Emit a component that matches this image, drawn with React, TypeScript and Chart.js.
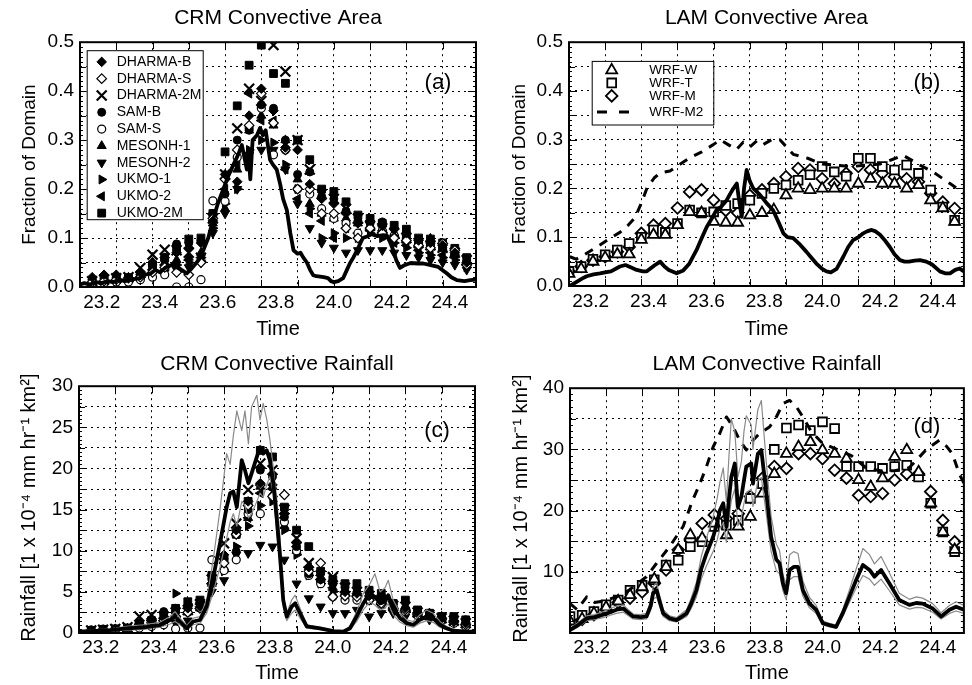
import React, { useEffect, useRef } from 'react';
import { Chart, registerables } from 'chart.js';
import { drawPoint } from 'chart.js/helpers';

Chart.register(...registerables);
const FONT = "'Liberation Sans', Arial, Helvetica, sans-serif";
Chart.defaults.font.family = FONT;
Chart.defaults.color = '#000';

// ---------------- axes ----------------
const xMin = 23.125;
const xMax = 24.49;
const xTickLabels = [23.2, 23.4, 23.6, 23.8, 24.0, 24.2, 24.4];
const xGridLines = [23.25, 23.375, 23.5, 23.625, 23.75, 23.875, 24.0, 24.125, 24.25, 24.375];
const yTicksArea = [0, 0.1, 0.2, 0.3, 0.4, 0.5];
const yGridArea = [0, 0.05, 0.1, 0.15, 0.2, 0.25, 0.3, 0.35, 0.4, 0.45, 0.5];
const yTicksCrmRain = [0, 5, 10, 15, 20, 25, 30];
const yGridCrmRain = [0, 2.5, 5, 7.5, 10, 12.5, 15, 17.5, 20, 22.5, 25, 27.5, 30];
const yTicksLamRain = [10, 20, 30, 40];
const yGridLamRain = [0, 5, 10, 15, 20, 25, 30, 35, 40];

// ---------------- names ----------------
const crmModels = ['DHARMA-B', 'DHARMA-S', 'DHARMA-2M', 'SAM-B', 'SAM-S', 'MESONH-1', 'MESONH-2', 'UKMO-1', 'UKMO-2', 'UKMO-2M'];
const wrfModels = ['WRF-W', 'WRF-T', 'WRF-M', 'WRF-M2'];

// hourly model output times (days)
const crmTimes = [23.167, 23.208, 23.25, 23.292, 23.333, 23.375, 23.417, 23.458, 23.5, 23.542, 23.583, 23.625, 23.667, 23.708, 23.75, 23.792, 23.833, 23.875, 23.917, 23.958, 24.0, 24.042, 24.083, 24.125, 24.167, 24.208, 24.25, 24.292, 24.333, 24.375, 24.417, 24.458];
const wrfTimes = [23.125, 23.167, 23.208, 23.25, 23.292, 23.333, 23.375, 23.417, 23.458, 23.5, 23.542, 23.583, 23.625, 23.667, 23.708, 23.75, 23.792, 23.833, 23.875, 23.917, 23.958, 24.0, 24.042, 24.083, 24.125, 24.167, 24.208, 24.25, 24.292, 24.333, 24.375, 24.417, 24.458];

// ---------------- (a) CRM convective area ----------------
const areaDharmaB = [.020, .025, .025, .020, .030, .050, .060, .070, .080, .090, .135, .230, .215, .350, .405, .360, .285, .280, .210, .180, .170, .150, .130, .135, .125, .120, .110, .095, .090, .085, .070, .050];
const areaDharmaS = [.010, .012, .015, .018, .020, .030, .040, .030, .025, .050, .140, .220, .280, .330, .395, .335, .280, .200, .200, .150, .150, .120, .100, .120, .110, .100, .095, .085, .080, .089, .075, .045];
const areaDharma2M = [.012, .015, .018, .020, .039, .066, .076, .075, .070, .060, .140, .230, .324, .405, .380, .494, .440, .300, .240, .190, .180, .160, .140, .125, .120, .110, .100, .090, .085, .080, .070, .055];
const areaSamB = [.015, .018, .020, .020, .025, .045, .055, .088, .090, .095, .150, .190, .300, .320, .372, .365, .300, .230, .235, .185, .180, .155, .135, .130, .133, .120, .105, .090, .085, .080, .065, .050];
const areaSamS = [.005, .008, .010, .010, .015, .020, .025, .000, .000, .015, .176, .175, .265, .325, .365, .270, .280, .200, .190, .160, .140, .130, .110, .120, .115, .105, .100, .090, .085, .080, .065, .050];
const areaMesonh1 = [.010, .012, .015, .015, .030, .050, .050, .055, .060, .070, .130, .160, .240, .320, .350, .330, .300, .220, .170, .150, .140, .140, .130, .137, .120, .110, .095, .085, .099, .080, .070, .050];
const areaMesonh2 = [.005, .006, .008, .010, .015, .025, .030, .035, .040, .050, .110, .150, .200, .270, .280, .280, .240, .170, .120, .090, .080, .070, .075, .075, .075, .070, .065, .060, .055, .050, .045, .035];
const areaUkmo1 = [.008, .010, .010, .012, .020, .030, .040, .045, .050, .060, .120, .170, .200, .280, .300, .295, .250, .200, .160, .100, .110, .100, .100, .110, .100, .090, .080, .070, .065, .060, .055, .040];
const areaUkmo2 = [.008, .010, .012, .015, .020, .035, .045, .048, .055, .060, .150, .200, .250, .395, .340, .340, .240, .180, .150, .135, .100, .120, .110, .115, .105, .090, .085, .075, .070, .065, .060, .045];
const areaUkmo2M = [.010, .012, .015, .018, .025, .045, .060, .080, .098, .100, .150, .276, .370, .453, .494, .436, .416, .300, .260, .200, .195, .174, .147, .140, .130, .126, .118, .100, .098, .090, .079, .060];

const obsAreaCrmTimes = [23.125, 23.14, 23.16, 23.18, 23.2, 23.22, 23.24, 23.26, 23.28, 23.3, 23.332, 23.35, 23.37, 23.385, 23.401, 23.42, 23.44, 23.458, 23.475, 23.493, 23.51, 23.527, 23.54, 23.55, 23.567, 23.585, 23.6, 23.619, 23.635, 23.654, 23.67, 23.683, 23.69, 23.7, 23.705, 23.712, 23.72, 23.735, 23.746, 23.755, 23.765, 23.775, 23.78, 23.79, 23.803, 23.815, 23.825, 23.838, 23.85, 23.861, 23.875, 23.885, 23.895, 23.907, 23.918, 23.929, 23.94, 23.953, 23.965, 23.98, 23.99, 24.0, 24.015, 24.032, 24.045, 24.056, 24.067, 24.08, 24.1, 24.114, 24.13, 24.15, 24.17, 24.183, 24.195, 24.205, 24.215, 24.228, 24.245, 24.265, 24.29, 24.308, 24.33, 24.36, 24.389, 24.405, 24.424, 24.45, 24.47, 24.49];
const obsAreaCrm = [0.005, 0.008, 0.005, 0.01, 0.008, 0.012, 0.01, 0.015, 0.012, 0.015, 0.018, 0.025, 0.028, 0.035, 0.03, 0.04, 0.045, 0.04, 0.035, 0.028, 0.038, 0.05, 0.06, 0.075, 0.1, 0.14, 0.17, 0.2, 0.225, 0.25, 0.27, 0.29, 0.27, 0.24, 0.28, 0.22, 0.3, 0.31, 0.325, 0.31, 0.32, 0.28, 0.26, 0.25, 0.24, 0.21, 0.18, 0.157, 0.11, 0.075, 0.068, 0.07, 0.06, 0.05, 0.035, 0.024, 0.022, 0.021, 0.02, 0.018, 0.012, 0.01, 0.012, 0.018, 0.035, 0.049, 0.06, 0.075, 0.1, 0.103, 0.108, 0.104, 0.106, 0.105, 0.09, 0.075, 0.055, 0.039, 0.045, 0.049, 0.048, 0.048, 0.045, 0.041, 0.028, 0.02, 0.014, 0.012, 0.014, 0.015];

// ---------------- (b) LAM convective area ----------------
const areaWrfW = [.025, .035, .05, .058, .065, .065, .095, .105, .105, .125, .152, .15, .132, .13, .13, .145, .15, .156, .186, .2, .197, .2, .2, .2, .21, .22, .21, .21, .2, .207, .176, .16, .132];
const areaWrfT = [.03, .04, .055, .064, .074, .087, .1, .115, .11, .128, .156, .15, .152, .165, .169, .176, .19, .2, .207, .217, .228, .245, .234, .225, .262, .262, .245, .238, .248, .231, .197, .162, .135];
const areaWrfM = [.03, .04, .053, .06, .07, .08, .108, .125, .128, .16, .193, .197, .176, .155, .15, .186, .197, .21, .224, .241, .238, .22, .21, .231, .245, .238, .231, .224, .22, .214, .19, .172, .159];
const areaWrfM2Times = [23.128, 23.15, 23.18, 23.221, 23.26, 23.301, 23.33, 23.353, 23.375, 23.394, 23.42, 23.44, 23.474, 23.51, 23.543, 23.584, 23.624, 23.647, 23.675, 23.704, 23.727, 23.75, 23.775, 23.796, 23.825, 23.854, 23.9, 23.95, 24.0, 24.1, 24.2, 24.245, 24.28, 24.338, 24.383, 24.442, 24.49];
const areaWrfM2 = [0.06, 0.055, 0.065, 0.08, 0.095, 0.11, 0.125, 0.14, 0.17, 0.2, 0.222, 0.232, 0.236, 0.25, 0.263, 0.275, 0.29, 0.3, 0.29, 0.28, 0.295, 0.285, 0.298, 0.29, 0.3, 0.3, 0.27, 0.262, 0.25, 0.245, 0.25, 0.26, 0.268, 0.248, 0.234, 0.21, 0.19];
const obsAreaLamTimes = [23.128, 23.15, 23.17, 23.186, 23.21, 23.232, 23.25, 23.27, 23.301, 23.32, 23.34, 23.359, 23.38, 23.394, 23.42, 23.44, 23.455, 23.47, 23.497, 23.52, 23.54, 23.566, 23.585, 23.601, 23.62, 23.635, 23.65, 23.67, 23.683, 23.693, 23.705, 23.712, 23.722, 23.73, 23.739, 23.75, 23.762, 23.78, 23.795, 23.808, 23.83, 23.85, 23.866, 23.88, 23.9, 23.92, 23.946, 23.96, 23.98, 24.0, 24.015, 24.03, 24.05, 24.073, 24.09, 24.107, 24.125, 24.142, 24.155, 24.171, 24.185, 24.2, 24.215, 24.234, 24.25, 24.269, 24.285, 24.3, 24.32, 24.338, 24.36, 24.38, 24.407, 24.425, 24.442, 24.46, 24.475, 24.49];
const obsAreaLam = [0.0, 0.008, 0.015, 0.02, 0.024, 0.026, 0.028, 0.03, 0.04, 0.043, 0.038, 0.033, 0.03, 0.03, 0.042, 0.05, 0.04, 0.033, 0.026, 0.032, 0.045, 0.074, 0.1, 0.121, 0.14, 0.156, 0.162, 0.176, 0.19, 0.2, 0.21, 0.18, 0.142, 0.2, 0.238, 0.215, 0.2, 0.19, 0.18, 0.17, 0.156, 0.13, 0.108, 0.1, 0.098, 0.087, 0.07, 0.06, 0.046, 0.035, 0.03, 0.028, 0.035, 0.06, 0.08, 0.094, 0.1, 0.108, 0.112, 0.115, 0.112, 0.105, 0.095, 0.08, 0.065, 0.053, 0.05, 0.05, 0.052, 0.053, 0.05, 0.044, 0.03, 0.026, 0.026, 0.033, 0.036, 0.03];

// ---------------- (c) CRM convective rainfall ----------------
const rainDharmaB = [.2, .4, .5, .6, 1.2, 1.5, 1.8, 2.5, 3.0, 3.2, 6.0, 9.5, 12.5, 16.0, 18.2, 18.0, 14.5, 11.0, 8.0, 6.5, 6.0, 5.0, 4.8, 4.5, 4.0, 3.0, 3.0, 2.5, 2.0, 1.8, 1.5, 1.2];
const rainDharmaS = [.2, .3, .4, .5, 1.0, 1.3, 1.5, 2.0, 2.5, 3.0, 6.0, 8.5, 12.0, 15.5, 18.0, 16.6, 16.8, 11.0, 7.5, 8.5, 4.4, 4.5, 4.4, 4.0, 3.6, 3.0, 2.8, 2.4, 2.0, 1.8, 1.4, 1.0];
const rainDharma2M = [.3, .4, .5, .7, 2.0, 2.2, 2.0, 2.5, 2.8, 3.5, 6.5, 10.9, 13.3, 17.4, 20.6, 19.8, 15.0, 11.5, 8.5, 7.0, 6.8, 5.5, 5.0, 4.5, 4.0, 3.3, 3.2, 2.5, 2.2, 1.8, 1.5, 1.2];
const rainSamB = [.4, .5, .5, .6, 1.2, 1.6, 2.6, 3.0, 2.5, 3.0, 6.5, 9.0, 9.9, 15.0, 19.8, 19.0, 14.1, 10.5, 7.2, 6.5, 6.0, 5.5, 5.0, 5.0, 4.5, 3.5, 3.0, 2.5, 2.2, 2.0, 1.8, 1.6];
const rainSamS = [.1, .2, .3, .4, .6, .8, 1.0, .5, .6, .6, 8.9, 7.6, 8.9, 14.5, 14.5, 16.6, 13.5, 10.0, 7.0, 6.0, 4.4, 4.0, 4.0, 4.0, 3.5, 3.0, 2.6, 2.2, 2.0, 1.6, 1.2, .8];
const rainMesonh1 = [.2, .3, .4, .5, 1.0, 1.4, 1.6, 2.2, 2.6, 3.0, 6.0, 8.0, 12.1, 14.0, 17.8, 17.8, 13.0, 10.0, 8.0, 6.5, 5.5, 5.0, 5.0, 4.5, 4.0, 3.2, 3.0, 2.5, 2.4, 2.0, 1.6, 1.2];
const rainMesonh2 = [.1, .2, .3, .4, .6, .8, 1.0, 1.2, 1.5, 3.4, 5.0, 6.4, 9.5, 9.7, 10.7, 10.5, 8.9, 6.0, 4.2, 3.2, 2.4, 2.4, 2.8, 2.0, 2.4, 2.4, 2.0, 2.0, 1.6, 1.4, 1.2, .8];
const rainUkmo1 = [.2, .3, .4, .5, 1.0, 1.5, 2.0, 4.8, 3.5, 3.8, 6.0, 7.5, 10.5, 13.0, 15.5, 16.0, 12.5, 9.5, 7.0, 6.0, 5.0, 4.5, 4.5, 4.0, 3.6, 3.0, 2.6, 2.2, 2.0, 1.6, 1.4, 1.0];
const rainUkmo2 = [.2, .3, .4, .5, 1.0, 1.5, 1.8, 2.5, 3.0, 3.5, 7.0, 9.0, 12.0, 14.0, 17.0, 17.5, 14.0, 10.5, 8.0, 7.0, 5.5, 5.0, 4.5, 4.0, 3.5, 3.0, 2.5, 2.2, 2.0, 1.5, 1.3, 1.0];
const rainUkmo2M = [.3, .4, .5, .6, 1.0, 1.5, 2.0, 3.0, 3.8, 4.0, 7.0, 8.9, 12.0, 16.0, 22.2, 21.4, 15.3, 12.5, 10.5, 7.5, 6.5, 6.0, 6.0, 5.2, 4.8, 3.6, 4.0, 2.8, 2.4, 2.0, 2.0, 1.6];

const obsRainCrmTimes = [23.128, 23.232, 23.289, 23.347, 23.404, 23.439, 23.456, 23.473, 23.496, 23.519, 23.542, 23.565, 23.588, 23.611, 23.634, 23.646, 23.657, 23.669, 23.686, 23.697, 23.709, 23.72, 23.738, 23.749, 23.76, 23.772, 23.783, 23.795, 23.806, 23.818, 23.829, 23.841, 23.858, 23.87, 23.887, 23.91, 23.956, 24.002, 24.036, 24.059, 24.082, 24.105, 24.128, 24.145, 24.163, 24.18, 24.191, 24.208, 24.232, 24.255, 24.277, 24.3, 24.323, 24.346, 24.369, 24.392, 24.415, 24.461, 24.49];
const obsRainCrm = [0.16, 0.36, 0.57, 0.69, 0.97, 1.58, 2.0, 1.4, 0.57, 1.4, 1.58, 3.2, 6.8, 10.9, 15.3, 17.0, 17.2, 15.3, 21.0, 19.8, 18.2, 19.4, 21.4, 22.6, 21.8, 22.2, 21.0, 18.2, 14.1, 9.3, 4.0, 2.0, 3.2, 3.6, 2.4, 0.8, 0.57, 0.24, 0.16, 0.57, 2.0, 3.6, 4.8, 4.4, 3.6, 3.8, 4.6, 3.0, 1.8, 1.2, 1.0, 1.6, 2.0, 1.8, 1.0, 0.57, 0.28, 0.16, 0.16];
const obsRainCrmHigh = [0.3, 0.5, 0.8, 1.0, 1.3, 2.0, 2.6, 1.8, 0.9, 1.8, 2.0, 4.0, 9.0, 15.0, 21.8, 20.5, 24.0, 27.0, 24.6, 27.0, 23.0, 27.5, 28.9, 25.9, 27.9, 26.0, 23.5, 20.0, 16.5, 11.7, 4.5, 2.4, 4.0, 4.6, 3.0, 1.0, 0.7, 0.3, 0.2, 0.8, 2.6, 4.8, 6.0, 7.2, 5.0, 5.5, 6.4, 4.0, 2.4, 1.6, 1.4, 2.2, 2.8, 2.4, 1.4, 0.8, 0.4, 0.2, 0.2];
const obsRainCrmLow = [0.1, 0.2, 0.35, 0.45, 0.7, 1.1, 1.4, 1.0, 0.4, 1.0, 1.2, 2.4, 5.0, 8.0, 11.5, 13.5, 14.5, 13.0, 16.0, 15.5, 14.0, 14.5, 16.0, 17.0, 16.5, 18.0, 19.0, 17.0, 12.5, 8.0, 3.2, 1.5, 2.4, 2.8, 1.8, 0.6, 0.4, 0.15, 0.1, 0.4, 1.4, 2.8, 3.8, 3.4, 2.8, 3.0, 3.6, 2.2, 1.3, 0.9, 0.7, 1.2, 1.5, 1.3, 0.7, 0.4, 0.2, 0.1, 0.1];

// ---------------- (d) LAM convective rainfall ----------------
const rainWrfW = [1.9, 2.3, 3.2, 4.2, 5.2, 6.2, 7.5, 8.8, 10.8, 13.6, 16, 15.5, 17.9, 16, 17.4, 19, 22.8, 26, 29.3, 30.4, 31.2, 29.9, 29.3, 28.5, 25, 23.9, 25.3, 28.8, 29.9, 26.3, 21.2, 16.5, 13.6];
const rainWrfT = [2.7, 2.9, 3.5, 4.6, 5.4, 7.0, 7.8, 8.7, 11.1, 11.9, 14.1, 14.9, 17.4, 17.6, 18.4, 22, 24.4, 30, 33.5, 34, 33.1, 34.5, 33.4, 27.2, 27.2, 27.2, 26.9, 27.2, 27.4, 25.5, 21.2, 16.5, 13.3];
const rainWrfM = [2.1, 2.2, 3.0, 3.8, 5.0, 5.7, 6.7, 8.1, 10.3, 13.6, 15.2, 17.9, 19.3, 18.7, 19.5, 22.3, 25.3, 27.2, 26.9, 29.3, 29.3, 28.5, 26.6, 25.3, 22.5, 22.3, 22.8, 25, 26, 26, 23.1, 18.4, 14.9];
const rainWrfM2Times = [23.125, 23.15, 23.183, 23.21, 23.24, 23.286, 23.33, 23.39, 23.425, 23.47, 23.517, 23.55, 23.575, 23.598, 23.621, 23.644, 23.667, 23.69, 23.713, 23.736, 23.759, 23.782, 23.817, 23.84, 23.863, 23.886, 23.909, 23.932, 23.96, 24.0, 24.05, 24.1, 24.15, 24.2, 24.25, 24.3, 24.325, 24.36, 24.405, 24.43, 24.45, 24.474, 24.49];
const rainWrfM2 = [4.8, 3.8, 5.9, 5.0, 5.2, 5.9, 7.0, 9.2, 11.4, 14.1, 17.4, 21.7, 24.4, 27.2, 30.4, 32.6, 35.3, 33.7, 31.5, 29.9, 31.5, 32.6, 33.7, 35.3, 37.5, 38.0, 37.0, 35.3, 33.0, 31.0, 30.0, 29.0, 27.0, 26.5, 26.5, 27.0, 28.2, 30.0, 31.5, 30.5, 29.3, 26.0, 24.5];
const obsRainLamTimes = [23.125, 23.15, 23.183, 23.21, 23.24, 23.265, 23.286, 23.31, 23.325, 23.344, 23.37, 23.39, 23.405, 23.413, 23.425, 23.437, 23.448, 23.47, 23.494, 23.51, 23.529, 23.545, 23.563, 23.58, 23.598, 23.621, 23.635, 23.644, 23.656, 23.667, 23.676, 23.684, 23.696, 23.707, 23.719, 23.728, 23.736, 23.753, 23.759, 23.776, 23.788, 23.805, 23.822, 23.84, 23.851, 23.863, 23.874, 23.886, 23.9, 23.915, 23.932, 23.955, 23.978, 24.001, 24.024, 24.047, 24.07, 24.093, 24.117, 24.14, 24.163, 24.18, 24.203, 24.232, 24.266, 24.301, 24.325, 24.347, 24.382, 24.411, 24.44, 24.463, 24.49];
const obsRainLam = [0.5, 1.2, 2.4, 2.6, 3.0, 3.4, 3.8, 4.0, 3.4, 2.7, 2.6, 2.7, 4.5, 6.5, 7.0, 5.0, 3.2, 2.4, 2.1, 2.6, 3.2, 4.8, 7.0, 10.5, 13.0, 15.7, 18.0, 20.0, 21.2, 17.4, 22.0, 25.5, 27.7, 20.6, 22.3, 25.0, 27.2, 27.7, 24.4, 29.3, 29.9, 23.0, 15.7, 12.0, 11.4, 8.1, 6.5, 10.3, 10.8, 10.8, 7.0, 4.8, 3.8, 1.6, 1.3, 1.0, 3.2, 5.9, 8.7, 11.1, 10.3, 9.2, 10.3, 8.1, 5.4, 4.6, 4.9, 4.8, 4.0, 2.7, 3.8, 4.3, 3.8];
const obsRainLamHigh = [0.8, 1.6, 2.8, 3.0, 3.5, 4.0, 4.4, 4.6, 3.9, 3.1, 3.0, 3.2, 5.3, 7.6, 8.2, 5.8, 3.8, 2.8, 2.5, 3.1, 3.8, 5.7, 8.3, 12.5, 15.5, 19.0, 22.0, 24.5, 27.0, 21.5, 29.0, 35.0, 33.0, 25.5, 28.0, 33.0, 35.5, 34.0, 30.0, 36.5, 38.0, 28.0, 19.0, 14.5, 13.5, 9.5, 8.0, 12.8, 13.3, 13.0, 8.5, 5.8, 4.5, 2.0, 1.6, 1.3, 3.8, 7.0, 10.5, 13.8, 12.8, 11.3, 12.5, 9.8, 6.5, 5.5, 5.9, 5.7, 4.8, 3.3, 4.5, 5.1, 4.5];
const obsRainLamLow = [0.2, 0.9, 2.0, 2.2, 2.5, 2.9, 3.2, 3.4, 2.9, 2.3, 2.2, 2.3, 3.8, 5.5, 5.9, 4.2, 2.7, 2.0, 1.8, 2.2, 2.7, 4.0, 5.9, 8.8, 11.0, 13.3, 15.2, 17.0, 18.0, 14.8, 18.7, 21.7, 23.5, 17.5, 19.0, 21.2, 23.0, 23.5, 20.7, 24.9, 25.4, 19.5, 13.3, 10.2, 9.7, 6.9, 5.5, 8.7, 9.2, 9.2, 6.0, 4.1, 3.2, 1.3, 1.0, 0.8, 2.7, 5.0, 7.4, 9.4, 8.8, 7.8, 8.8, 6.9, 4.6, 3.9, 4.2, 4.1, 3.4, 2.3, 3.2, 3.6, 3.2];

// ---------------- styles (not data) ----------------
const crmMarkerStyles = [
  { pointStyle: 'rectRot', fill: '#000', radius: 4.8, rotation: 0, border: 1 },
  { pointStyle: 'rectRot', fill: '#fff', radius: 4.8, rotation: 0, border: 1.2 },
  { pointStyle: 'crossRot', fill: '#000', radius: 7, rotation: 0, border: 2.2 },
  { pointStyle: 'circle', fill: '#000', radius: 4, rotation: 0, border: 1 },
  { pointStyle: 'circle', fill: '#fff', radius: 4, rotation: 0, border: 1.2 },
  { pointStyle: 'triangle', fill: '#000', radius: 5.2, rotation: 0, border: 1 },
  { pointStyle: 'triangle', fill: '#000', radius: 5.2, rotation: 180, border: 1 },
  { pointStyle: 'triangle', fill: '#000', radius: 5.2, rotation: 90, border: 1 },
  { pointStyle: 'triangle', fill: '#000', radius: 5.2, rotation: 270, border: 1 },
  { pointStyle: 'rect', fill: '#000', radius: 5.5, rotation: 0, border: 1 },
];
const wrfMarkerStyles = [
  { pointStyle: 'triangle', fill: '#fff', radius: 6.3, rotation: 0, border: 1.8 },
  { pointStyle: 'rect', fill: '#fff', radius: 6.2, rotation: 0, border: 1.8 },
  { pointStyle: 'rectRot', fill: '#fff', radius: 5.8, rotation: 0, border: 1.8 },
];
const GREY = '#8a8a8a';
const M2_DASH = [9, 8];

const pts = (xs: number[], ys: number[]) => xs.map((x, i) => ({ x, y: ys[i] }));

function markerDataset(label: string, data: any[], st: any) {
  return {
    label, data, showLine: false,
    pointStyle: st.pointStyle, pointRadius: st.radius, pointHoverRadius: st.radius,
    pointRotation: st.rotation, pointBackgroundColor: st.fill, pointBorderColor: '#000',
    pointBorderWidth: st.border,
  };
}
function lineDataset(label: string, data: any[], color: string, width: number, dash: number[] = []) {
  return {
    label, data, showLine: true, pointRadius: 0, pointHoverRadius: 0,
    borderColor: color, backgroundColor: color, borderWidth: width, borderDash: dash,
    fill: false, tension: 0, borderJoinStyle: 'round',
  };
}

function buildOptions(p: any) {
  const tickFont = { family: FONT, size: 19 };
  return {
    responsive: false,
    animation: false,
    devicePixelRatio: 1,
    events: [],
    layout: { padding: { left: 0, right: p.padRight, top: 0, bottom: 0 } },
    plugins: {
      legend: { display: false },
      tooltip: { enabled: false },
      title: {
        display: true, text: p.title, fullSize: false, color: '#000',
        font: { family: FONT, size: 21, weight: 'normal' },
        padding: { top: p.titleTop, bottom: p.titleBottom },
      },
    },
    scales: {
      x: {
        type: 'linear', position: 'bottom', min: xMin, max: xMax, weight: 0,
        afterBuildTicks: (ax: any) => { ax.ticks = xGridLines.map((v) => ({ value: v })); },
        ticks: { display: false, autoSkip: false },
        grid: { display: true, drawTicks: false, color: '#000', lineWidth: 1 },
        border: { display: false, dash: [2, 4] },
        afterFit: (s: any) => { s.height = 0; },
      },
      xt: {
        type: 'linear', position: 'bottom', min: xMin, max: xMax, weight: 1,
        afterBuildTicks: (ax: any) => { ax.ticks = xTickLabels.map((v) => ({ value: v })); },
        ticks: {
          autoSkip: false, maxRotation: 0, padding: p.xTickPad, color: '#000', font: tickFont,
          callback: (v: any) => Number(v).toFixed(1),
        },
        grid: { display: false },
        border: { display: false },
        title: { display: true, text: 'Time', color: '#000', font: { family: FONT, size: 20 }, padding: { top: 0, bottom: p.timePad } },
        afterFit: (s: any) => { s.height = p.xHeight; },
      },
      y: {
        type: 'linear', position: 'left', min: p.yMin, max: p.yMax,
        afterBuildTicks: (ax: any) => { ax.ticks = p.yGrid.map((v: number) => ({ value: v })); },
        ticks: {
          autoSkip: false, padding: 6, color: '#000', font: tickFont,
          callback: (v: any) => {
            const m = p.yLabels.find((t: number) => Math.abs(t - v) < 1e-6);
            return m === undefined ? '' : m.toFixed(p.yDigits);
          },
        },
        grid: { display: true, drawTicks: false, color: '#000', lineWidth: 1 },
        border: { display: false, dash: [2, 4] },
        afterFit: (s: any) => { s.width = p.yWidth; },
      },
    },
  };
}

function makeFrame(p: any) {
  return {
    id: 'frame',
    afterDraw(chart: any) {
      const { ctx, chartArea: a, scales } = chart;
      const ys = scales.y;
      const xs = scales.x;
      ctx.save();
      ctx.strokeStyle = '#000';
      ctx.lineWidth = 1;
      ctx.setLineDash([]);
      ctx.beginPath();
      const n = Math.round((p.yMax - p.yMin) / p.yMinor);
      for (let i = 0; i <= n; i++) {
        const v = p.yMin + i * p.yMinor;
        const py = Math.round(ys.getPixelForValue(v)) + 0.5;
        const lab = p.yLabels.some((g: number) => Math.abs(g - v) < p.yMinor / 10);
        const grd = p.yGrid.some((g: number) => Math.abs(g - v) < p.yMinor / 10);
        const len = lab ? 8 : grd ? 6 : 3;
        ctx.moveTo(a.left, py); ctx.lineTo(a.left + len, py);
        ctx.moveTo(a.right, py); ctx.lineTo(a.right - len, py);
      }
      xGridLines.forEach((v) => {
        const px = Math.round(xs.getPixelForValue(v)) + 0.5;
        ctx.moveTo(px, a.bottom); ctx.lineTo(px, a.bottom - 7);
        ctx.moveTo(px, a.top); ctx.lineTo(px, a.top + 7);
      });
      ctx.stroke();
      ctx.lineWidth = 2;
      ctx.strokeRect(a.left, a.top, a.right - a.left, a.bottom - a.top);
      ctx.restore();
    },
  };
}

function makeDecor(p: any) {
  return {
    id: 'decor',
    afterDraw(chart: any) {
      const { ctx, chartArea: a } = chart;
      ctx.save();
      ctx.fillStyle = '#000';
      ctx.textAlign = 'center';
      ctx.textBaseline = 'middle';
      ctx.font = `22px ${FONT}`;
      ctx.fillText(p.tag, a.right - p.tagDx, a.top + p.tagDy);
      ctx.translate(p.yTitleX, (a.top + a.bottom) / 2 + p.yTitleDy);
      ctx.rotate(-Math.PI / 2);
      ctx.font = `${p.yTitleSize}px ${FONT}`;
      ctx.fillText(p.yTitle, 0, 0);
      ctx.restore();
    },
  };
}

function makeLegend(spec: any) {
  return {
    id: 'boxLegend',
    afterDraw(chart: any) {
      const { ctx, chartArea: a } = chart;
      ctx.save();
      const x0 = a.left + spec.box[0];
      const y0 = a.top + spec.box[1];
      const w = spec.box[2] - spec.box[0];
      const h = spec.box[3] - spec.box[1];
      ctx.fillStyle = '#fff';
      ctx.fillRect(x0, y0, w, h);
      ctx.strokeStyle = '#000';
      ctx.lineWidth = 1;
      ctx.setLineDash([]);
      ctx.strokeRect(x0 + 0.5, y0 + 0.5, w, h);
      spec.items.forEach((di: number, i: number) => {
        const ds = chart.data.datasets[di];
        const y = a.top + spec.rows[i];
        ctx.save();
        if (ds.showLine) {
          ctx.strokeStyle = ds.borderColor;
          ctx.lineWidth = ds.borderWidth;
          ctx.setLineDash(spec.lineDash);
          ctx.beginPath();
          ctx.moveTo(a.left + spec.lineX0, y);
          ctx.lineTo(a.left + spec.lineX1, y);
          ctx.stroke();
        } else {
          ctx.fillStyle = ds.pointBackgroundColor;
          ctx.strokeStyle = '#000';
          ctx.lineWidth = ds.pointBorderWidth;
          ctx.setLineDash([]);
          drawPoint(ctx, {
            pointStyle: ds.pointStyle, rotation: ds.pointRotation || 0,
            radius: ds.pointRadius, borderWidth: ds.pointBorderWidth,
          }, a.left + spec.symX, y);
        }
        ctx.restore();
        ctx.fillStyle = '#000';
        ctx.font = `${spec.fontSize}px ${FONT}`;
        ctx.textAlign = 'left';
        ctx.textBaseline = 'middle';
        ctx.fillText(ds.label, a.left + spec.textX, y);
      });
      ctx.restore();
    },
  };
}

function makeConfig(p: any, datasets: any[]) {
  const plugins: any[] = [makeFrame(p), makeDecor(p)];
  if (p.legend) plugins.push(makeLegend(p.legend));
  return { type: 'scatter', data: { datasets }, options: buildOptions(p), plugins };
}

// ---------------- panels ----------------
const crmAreaSeries = [areaDharmaB, areaDharmaS, areaDharma2M, areaSamB, areaSamS, areaMesonh1, areaMesonh2, areaUkmo1, areaUkmo2, areaUkmo2M];
const crmRainSeries = [rainDharmaB, rainDharmaS, rainDharma2M, rainSamB, rainSamS, rainMesonh1, rainMesonh2, rainUkmo1, rainUkmo2, rainUkmo2M];

function panelA() {
  const p = {
    title: 'CRM Convective Area', padRight: 10, yWidth: 80, xHeight: 55, titleTop: 6, titleBottom: 11,
    timePad: 1, xTickPad: -4, yMin: 0, yMax: 0.5, yGrid: yGridArea, yLabels: yTicksArea, yDigits: 1, yMinor: 0.01,
    tag: '(a)', tagDx: 38, tagDy: 41, yTitle: 'Fraction of Domain', yTitleX: 30, yTitleDy: 0, yTitleSize: 19,
    legend: {
      box: [6.7, 8, 122.7, 177], rows: [19.7, 36.5, 53.3, 70.1, 86.9, 103.7, 120.5, 137.3, 154.1, 170.9],
      symX: 21.7, textX: 36.7, fontSize: 14, items: [1, 2, 3, 4, 5, 6, 7, 8, 9, 10],
    },
  };
  const ds: any[] = [lineDataset('Observed', pts(obsAreaCrmTimes, obsAreaCrm), '#000', 3.8)];
  crmModels.forEach((m, i) => ds.push(markerDataset(m, pts(crmTimes, crmAreaSeries[i]), crmMarkerStyles[i])));
  return makeConfig(p, ds);
}

function panelB() {
  const p = {
    title: 'LAM Convective Area', padRight: 8, yWidth: 83, xHeight: 56, titleTop: 6, titleBottom: 11,
    timePad: 1, xTickPad: -4, yMin: 0, yMax: 0.5, yGrid: yGridArea, yLabels: yTicksArea, yDigits: 1, yMinor: 0.01,
    tag: '(b)', tagDx: 37, tagDy: 41, yTitle: 'Fraction of Domain', yTitleX: 34, yTitleDy: 0, yTitleSize: 19,
    legend: {
      box: [22.7, 18.7, 144.3, 82.3], rows: [28, 40.7, 53.7, 69.7],
      symX: 42.7, textX: 80.3, fontSize: 13.5, lineX0: 28, lineX1: 61, lineDash: [10, 12], items: [2, 3, 4, 1],
    },
  };
  const ds: any[] = [
    lineDataset('Observed', pts(obsAreaLamTimes, obsAreaLam), '#000', 3.8),
    lineDataset(wrfModels[3], pts(areaWrfM2Times, areaWrfM2), '#000', 3, M2_DASH),
    markerDataset(wrfModels[0], pts(wrfTimes, areaWrfW), wrfMarkerStyles[0]),
    markerDataset(wrfModels[1], pts(wrfTimes, areaWrfT), wrfMarkerStyles[1]),
    markerDataset(wrfModels[2], pts(wrfTimes, areaWrfM), wrfMarkerStyles[2]),
  ];
  return makeConfig(p, ds);
}

const RAIN_TITLE = 'Rainfall [1 x 10\u207B\u2074 mm hr\u207B\u00B9 km\u00B2]';

function panelC() {
  const p = {
    title: 'CRM Convective Rainfall', padRight: 11, yWidth: 79, xHeight: 52, titleTop: 10, titleBottom: 9,
    timePad: 0, xTickPad: -5, yMin: 0, yMax: 30, yGrid: yGridCrmRain, yLabels: yTicksCrmRain, yDigits: 0, yMinor: 0.5,
    tag: '(c)', tagDx: 38, tagDy: 45, yTitle: RAIN_TITLE, yTitleX: 29, yTitleDy: -2, yTitleSize: 20,
  };
  const ds: any[] = [
    lineDataset('Observed', pts(obsRainCrmTimes, obsRainCrm), '#000', 3.8),
    lineDataset('Observed high', pts(obsRainCrmTimes, obsRainCrmHigh), GREY, 1.2),
    lineDataset('Observed low', pts(obsRainCrmTimes, obsRainCrmLow), GREY, 1.2),
  ];
  crmModels.forEach((m, i) => ds.push(markerDataset(m, pts(crmTimes, crmRainSeries[i]), crmMarkerStyles[i])));
  return makeConfig(p, ds);
}

function panelD() {
  const p = {
    title: 'LAM Convective Rainfall', padRight: 8, yWidth: 84, xHeight: 52, titleTop: 10, titleBottom: 11,
    timePad: 0, xTickPad: -5, yMin: 0, yMax: 40, yGrid: yGridLamRain, yLabels: yTicksLamRain, yDigits: 0, yMinor: 1,
    tag: '(d)', tagDx: 37, tagDy: 39, yTitle: RAIN_TITLE, yTitleX: 35, yTitleDy: -2, yTitleSize: 20,
  };
  const ds: any[] = [
    lineDataset('Observed', pts(obsRainLamTimes, obsRainLam), '#000', 3.8),
    lineDataset('Observed high', pts(obsRainLamTimes, obsRainLamHigh), GREY, 1.2),
    lineDataset('Observed low', pts(obsRainLamTimes, obsRainLamLow), GREY, 1.2),
    lineDataset(wrfModels[3], pts(rainWrfM2Times, rainWrfM2), '#000', 3, M2_DASH),
    markerDataset(wrfModels[0], pts(wrfTimes, rainWrfW), wrfMarkerStyles[0]),
    markerDataset(wrfModels[1], pts(wrfTimes, rainWrfT), wrfMarkerStyles[1]),
    markerDataset(wrfModels[2], pts(wrfTimes, rainWrfM), wrfMarkerStyles[2]),
  ];
  return makeConfig(p, ds);
}

function Panel({ build, left, top, width, height }: any) {
  const ref = useRef<HTMLCanvasElement | null>(null);
  useEffect(() => {
    const chart = new Chart(ref.current as HTMLCanvasElement, build() as any);
    return () => chart.destroy();
  }, [build]);
  return (
    <canvas
      ref={ref}
      width={width}
      height={height}
      style={{ position: 'absolute', left, top, width, height }}
    />
  );
}

export default function App() {
  return (
    <div style={{ position: 'absolute', left: 0, top: 0, width: 972, height: 685, background: '#fff', overflow: 'hidden' }}>
      <Panel build={panelA} left={0} top={0} width={486} height={342} />
      <Panel build={panelB} left={486} top={0} width={486} height={342} />
      <Panel build={panelC} left={0} top={342} width={486} height={343} />
      <Panel build={panelD} left={486} top={342} width={486} height={343} />
    </div>
  );
}
